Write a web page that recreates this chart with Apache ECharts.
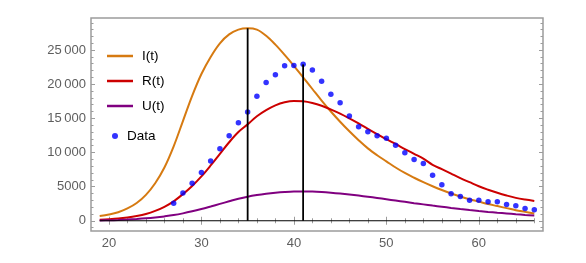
<!DOCTYPE html>
<html>
<head>
<meta charset="utf-8">
<script src="https://cdn.jsdelivr.net/npm/echarts@6/dist/echarts.min.js"></script>
<style>
html,body{margin:0;padding:0;background:#fff;}
#chart{width:586px;height:263px;}
</style>
</head>
<body>
<div id="chart"></div>
<script>
// ---- data ----
const tCurve = [19,20,21,22,23,24,25,26,27,28,29,30,31,32,33,34,35,36,37,38,39,40,41,42,43,44,45,46,47,48,49,50,51,52,53,54,55,56,57,58,59,60,61,62,63,64,65,66];
const iVals = [700,920,1250,1800,2600,3800,5500,7800,10900,14600,18300,21500,24000,26000,27300,28000,28200,28000,27100,25800,24300,22700,21000,19300,17600,16000,14500,13100,11800,10600,9600,8700,7800,7000,6300,5650,5050,4500,4000,3550,3150,2800,2450,2150,1850,1550,1300,1050];
const rVals = [150,220,320,480,700,1000,1450,2050,2850,3900,5100,6500,8100,9800,11500,13000,14120,15300,16200,16900,17350,17550,17500,17250,16850,16300,15700,15000,14250,13450,12700,11950,11250,10500,9800,9100,8200,7550,6900,6250,5650,5050,4550,4100,3700,3350,3100,2900];
const uVals = [40,70,110,170,250,350,480,640,830,1080,1380,1720,2090,2470,2850,3220,3530,3770,3960,4110,4220,4290,4300,4270,4200,4100,3980,3840,3690,3520,3340,3150,2960,2770,2580,2400,2220,2050,1880,1720,1570,1430,1300,1180,1070,960,860,770];
const tData = [27,28,29,30,31,32,33,34,35,36,37,38,39,40,41,42,43,44,45,46,47,48,49,50,51,52,53,54,55,56,57,58,59,60,61,62,63,64,65,66];
const dVals = [2550,4070,5490,7060,8770,10540,12450,14360,15930,18240,20240,21370,22700,22750,22940,22100,20440,18530,17300,15340,13780,13040,12450,12100,11070,9950,8970,8380,6660,5290,3970,3570,2990,2990,2790,2790,2400,2200,1810,1620];
const vLineT = [35, 41];
const vLineTop = [28200, 22900];
const baseLine = [19, 66];
const xMajor = [20,30,40,50,60];
const xMinor = [22,24,26,28,32,34,36,38,42,44,46,48,52,54,56,58,62,64,66];
const yMajor = [0,5000,10000,15000,20000,25000];
const yMinor = [-1000,1000,2000,3000,4000,6000,7000,8000,9000,11000,12000,13000,14000,16000,17000,18000,19000,21000,22000,23000,24000,26000,27000,28000,29000];
const names = ['I(t)','R(t)','U(t)','Data'];

const zip = (a,b) => a.map((v,i)=>[v,b[i]]);
const fmt = v => { const s = String(v); return s.length > 4 ? s.slice(0, s.length-3) + '\u2009' + s.slice(-3) : s; };

const X0 = 18.06, X1 = 66.94, Y0 = -1500, Y1 = 29700;
const frame = '#9c9c9c';
const font = 'Liberation Sans, Arial, sans-serif';

function xAx(pos, ticks, len, labels){
  return {type:'value', position:pos, min:X0, max:X1, gridIndex:0,
    axisLine:{show:false}, splitLine:{show:false},
    axisTick:{show:true, inside:true, length:len, customValues:ticks, lineStyle:{color:frame, width:1}},
    axisLabel:labels ? {show:true, customValues:xMajor, color:'#5e5e5e', fontSize:13, fontFamily:font, margin:6} : {show:false}};
}
function yAx(pos, ticks, len, labels){
  return {type:'value', position:pos, min:Y0, max:Y1, gridIndex:0,
    axisLine:{show:false}, splitLine:{show:false},
    axisTick:{show:true, inside:true, length:len, customValues:ticks, lineStyle:{color:frame, width:1}},
    axisLabel:labels ? {show:true, customValues:yMajor, color:'#5e5e5e', fontSize:13, fontFamily:font, margin:5, formatter:fmt} : {show:false}};
}

const chart = echarts.init(document.getElementById('chart'), null, {renderer:'canvas'});
const blackLine = (data, w) => ({type:'line', data, symbol:'none', silent:true, lineStyle:{color:'#000', width:w}, z:5, animation:false});

function legendAt(name, top, left, icon, w, h){
  return {data:[name], left, top, icon, itemWidth:w, itemHeight:h, itemGap:0, padding:0,
    textStyle:{color:'#000', fontSize:13.5, fontFamily:font, padding:[0,0,0,4]}, selectedMode:false};
}
const curve = (name, vals, color) => ({name, type:'line', data:zip(tCurve,vals), symbol:'none', smooth:0.35,
  lineStyle:{color, width:2}, itemStyle:{color}, z:2});

chart.setOption({
  animation:false,
  backgroundColor:'#fff',
  grid:{left:91, right:43, top:18, bottom:32, show:true, borderColor:frame, borderWidth:1.5, backgroundColor:'transparent'},
  xAxis:[xAx('bottom', xMajor, 4, true), xAx('bottom', xMinor, 2.5, false), xAx('top', xMajor, 4, false), xAx('top', xMinor, 2.5, false)],
  yAxis:[yAx('left', yMajor, 4, true), yAx('left', yMinor, 2.5, false), yAx('right', yMajor, 4, false), yAx('right', yMinor, 2.5, false)],
  legend:[
    legendAt(names[0], 49, 107, 'rect', 26, 2.5),
    legendAt(names[1], 74, 107, 'rect', 26, 2.5),
    legendAt(names[2], 99, 107, 'rect', 26, 2.5),
    legendAt(names[3], 129, 112, 'circle', 6, 6)
  ],
  series:[
    curve(names[0], iVals, '#D67A11'),
    curve(names[1], rVals, '#CC0000'),
    curve(names[2], uVals, '#800080'),
    {name:names[3], type:'scatter', data:zip(tData,dVals), symbol:'circle', symbolSize:5.5, itemStyle:{color:'#0000FF'}, z:3},
    blackLine([[baseLine[0],0],[baseLine[1],0]], 1),
    blackLine([[vLineT[0],0],[vLineT[0],vLineTop[0]]], 1.8),
    blackLine([[vLineT[1],0],[vLineT[1],vLineTop[1]]], 1.8)
  ]
});
</script>
</body>
</html>
